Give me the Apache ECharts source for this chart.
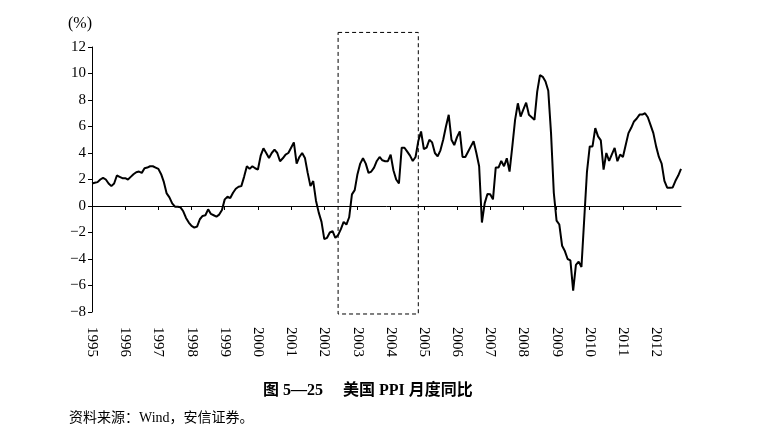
<!DOCTYPE html>
<html lang="zh">

<head>
  <meta charset="UTF-8">
  <script src="https://cdn.jsdelivr.net/npm/echarts@6.0.0/dist/echarts.min.js"></script>
  <title>美国 PPI 月度同比</title>
  <style>
    html, body { margin: 0; padding: 0; background: #fff; }
    .container { width: 760px; height: 431px; }
  </style>
</head>

<body>
  <div class="container"></div>

  <script>
    // 月份：1995-01 ... 2012-10
    const startYear = 1995;
    const monthCount = 214;
    const months = [];
    for (let i = 0; i < monthCount; i++) {
      const y = startYear + Math.floor(i / 12);
      const m = (i % 12) + 1;
      months.push(y + "-" + (m < 10 ? "0" + m : m));
    }

    // 美国 PPI 同比（%）
    const ppi = [
      1.7, 1.75, 1.8, 2.0, 2.13, 2.0, 1.7, 1.5, 1.7, 2.3, 2.2, 2.1,          // 1995
      2.1, 2.0, 2.2, 2.4, 2.55, 2.6, 2.5, 2.85, 2.9, 3.0, 3.0, 2.9,          // 1996
      2.8, 2.4, 1.8, 0.95, 0.65, 0.2, -0.05, -0.05, -0.1, -0.4, -0.9, -1.25, // 1997
      -1.5, -1.63, -1.55, -1.0, -0.75, -0.7, -0.25, -0.6, -0.7, -0.8, -0.65, -0.3, // 1998
      0.5, 0.7, 0.6, 1.0, 1.3, 1.45, 1.5, 2.2, 3.0, 2.8, 3.0, 2.85,          // 1999
      2.75, 3.8, 4.35, 4.0, 3.63, 4.0, 4.25, 4.0, 3.38, 3.6, 3.88, 4.0,      // 2000
      4.4, 4.8, 3.2, 3.7, 4.0, 3.63, 2.5, 1.5, 1.88, 0.4, -0.5, -1.2,        // 2001
      -2.5, -2.4, -2.0, -1.9, -2.4, -2.2, -1.75, -1.2, -1.4, -0.85, 0.88, 1.2, // 2002
      2.4, 3.2, 3.6, 3.2, 2.5, 2.6, 2.9, 3.4, 3.7, 3.45, 3.38, 3.38,         // 2003
      3.88, 2.7, 2.0, 1.7, 4.4, 4.4, 4.1, 3.8, 3.4, 3.7, 4.9, 5.63,          // 2004
      4.3, 4.4, 5.0, 4.8, 4.0, 3.75, 4.2, 5.0, 6.0, 6.88, 5.0, 4.6,          // 2005
      5.2, 5.63, 3.7, 3.7, 4.1, 4.5, 4.88, 4.0, 3.0, -1.25, 0.2, 0.9,        // 2006
      0.88, 0.5, 2.9, 2.9, 3.4, 3.0, 3.6, 2.6, 4.5, 6.5, 7.75, 6.75,         // 2007
      7.3, 7.8, 6.88, 6.7, 6.5, 8.63, 9.88, 9.75, 9.4, 8.7, 5.5, 1.0,        // 2008
      -1.1, -1.4, -3.0, -3.4, -4.0, -4.1, -6.38, -4.45, -4.2, -4.6, -1.0, 2.6, // 2009
      4.5, 4.5, 5.88, 5.25, 4.95, 2.75, 4.0, 3.4, 3.9, 4.38, 3.38, 3.88,     // 2010
      3.7, 4.6, 5.5, 5.9, 6.38, 6.6, 6.9, 6.9, 7.0, 6.7, 6.1, 5.5,           // 2011
      4.5, 3.7, 3.2, 1.9, 1.38, 1.38, 1.4, 1.9, 2.3, 2.8                     // 2012
    ];

    // 虚线框范围
    const boxStart = "2002-06";
    const boxEnd = "2004-11";
    const boxTop = 13.1;
    const boxBottom = -8.15;

    const serif = "'Liberation Serif', 'Noto Sans CJK SC', serif";

    const chart = echarts.init(document.querySelector(".container"));
    const options = {
      animation: false,
      title: [
        {
          text: "图 5—25\u3000 美国 PPI 月度同比",
          left: 258,
          top: 378,
          textStyle: { fontFamily: serif, fontSize: 16, fontWeight: "bold", color: "#000" },
        },
        {
          text: "资料来源：Wind，安信证券。",
          left: 64,
          top: 406,
          textStyle: { fontFamily: serif, fontSize: 14, fontWeight: "normal", color: "#000" },
        },
      ],
      grid: { left: 92, right: 79, top: 47, bottom: 119, containLabel: false },
      xAxis: [
        {
          type: "category",
          data: months,
          boundaryGap: false,
          position: "bottom",
          axisLine: { onZero: true, lineStyle: { color: "#000", width: 1 } },
          axisTick: { interval: 11, length: 4, lineStyle: { color: "#000" } },
          axisLabel: { show: false },
          splitLine: { show: false },
        },
        {
          type: "category",
          data: months,
          boundaryGap: false,
          position: "bottom",
          axisLine: { show: false, onZero: false },
          axisTick: { show: false },
          axisLabel: {
            interval: 11,
            rotate: -90,
            margin: 15,
            fontFamily: serif,
            fontSize: 15,
            color: "#000",
            formatter: (v) => v.slice(0, 4),
          },
          splitLine: { show: false },
        },
      ],
      yAxis: {
        type: "value",
        min: -8,
        max: 12,
        interval: 2,
        name: "(%)",
        nameLocation: "end",
        nameGap: 23,
        nameTextStyle: { fontFamily: serif, fontSize: 16, color: "#000", align: "right", verticalAlign: "middle" },
        axisLine: { show: true, lineStyle: { color: "#000", width: 1 } },
        axisTick: { show: true, length: 4, lineStyle: { color: "#000" } },
        axisLabel: {
          margin: 6,
          fontFamily: serif,
          fontSize: 15,
          color: "#000",
          formatter: (v) => (v < 0 ? "\u2212" + -v : "" + v),
        },
        splitLine: { show: false },
      },
      series: [
        {
          name: "美国 PPI 同比",
          type: "line",
          xAxisIndex: 0,
          data: ppi,
          showSymbol: false,
          smooth: false,
          lineStyle: { color: "#000", width: 2 },
        },
      ],
    };

    chart.setOption(options);

    // 虚线框：用坐标轴换算位置
    const p1 = chart.convertToPixel({ xAxisIndex: 0, yAxisIndex: 0 }, [months.indexOf(boxStart), boxTop]);
    const p2 = chart.convertToPixel({ xAxisIndex: 0, yAxisIndex: 0 }, [months.indexOf(boxEnd), boxBottom]);
    chart.setOption({
      graphic: [
        {
          type: "rect",
          shape: { x: p1[0], y: p1[1], width: p2[0] - p1[0], height: p2[1] - p1[1] },
          style: { fill: "none", stroke: "#000", lineWidth: 1, lineDash: [4, 3] },
          silent: true,
        },
      ],
    });
  </script>
</body>

</html>
